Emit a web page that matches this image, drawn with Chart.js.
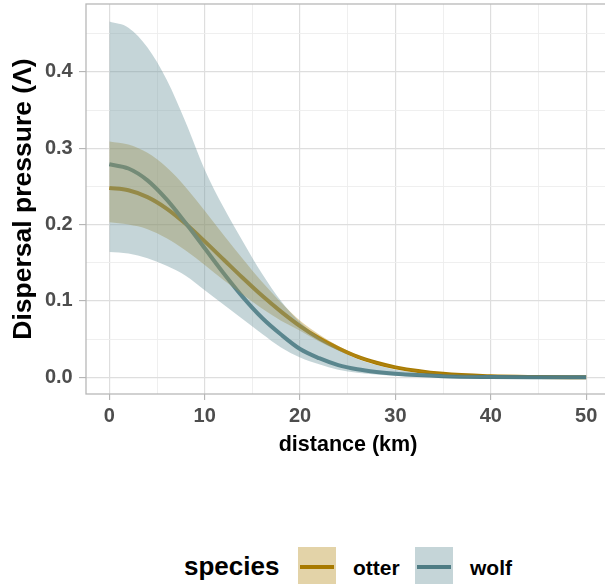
<!DOCTYPE html>
<html>
<head>
<meta charset="utf-8">
<script src="https://cdn.jsdelivr.net/npm/chart.js@4.4.1/dist/chart.umd.min.js"></script>
<style>
  html, body { margin: 0; padding: 0; background: #fff; }
  #wrap { position: relative; width: 605px; height: 584px; overflow: hidden; background: #fff;
          font-family: "Liberation Sans", Arial, sans-serif; }
  #box { position: absolute; left: 0; top: 0; width: 620px; height: 470px; }
  .leg { position: absolute; font-weight: bold; color: #000; line-height: 1; white-space: nowrap; }
  .key { position: absolute; top: 547px; width: 38px; height: 38px; }
  .key i { position: absolute; left: 2px; right: 2px; top: 18px; height: 4px; }
</style>
</head>
<body>
<div id="wrap">
  <div id="box"><canvas id="myChart" width="620" height="470"></canvas></div>
  <div class="leg" style="left:184px; top:553px; font-size:26px;">species</div>
  <div class="key" style="left:298px; background:rgba(185,145,38,0.4);"><i style="background:#a87a00;"></i></div>
  <div class="leg" style="left:353px; top:556.5px; font-size:21px;">otter</div>
  <div class="key" style="left:415px; background:rgba(110,150,158,0.4);"><i style="background:#4e7c84;"></i></div>
  <div class="leg" style="left:470px; top:556.5px; font-size:21px;">wolf</div>
</div>
<script>
// values
const distance = [0, 2, 4, 6, 8, 10, 12, 14, 16, 18, 20, 22, 24, 26, 28, 30, 35, 40, 45, 50];

const otterMean  = [0.248, 0.245, 0.236, 0.221, 0.201, 0.178, 0.154, 0.130, 0.107, 0.086, 0.067, 0.051, 0.038, 0.027, 0.019, 0.013, 0.0045, 0.0013, 0.0004, 0.0001];
const otterUpper = [0.309, 0.305, 0.294, 0.275, 0.249, 0.218, 0.186, 0.155, 0.125, 0.098, 0.074, 0.056, 0.041, 0.029, 0.020, 0.014, 0.005, 0.0014, 0.0004, 0.0001];
const otterLower = [0.203, 0.200, 0.194, 0.182, 0.166, 0.147, 0.127, 0.108, 0.090, 0.074, 0.061, 0.047, 0.035, 0.025, 0.018, 0.012, 0.004, 0.0012, 0.0003, 0.0001];

const wolfMean  = [0.279, 0.2735, 0.258, 0.233, 0.202, 0.169, 0.136, 0.105, 0.078, 0.056, 0.037, 0.025, 0.016, 0.0105, 0.007, 0.0045, 0.0014, 0.0004, 0.0001, 0];
const wolfUpper = [0.466, 0.458, 0.432, 0.390, 0.334, 0.272, 0.222, 0.178, 0.136, 0.100, 0.072, 0.052, 0.036, 0.024, 0.016, 0.010, 0.003, 0.001, 0.0002, 0];
const wolfLower = [0.164, 0.162, 0.156, 0.146, 0.133, 0.114, 0.095, 0.076, 0.057, 0.039, 0.026, 0.017, 0.010, 0.006, 0.0035, 0.002, 0.0005, 0.0001, 0, 0];

const xMajor = [0, 10, 20, 30, 40, 50];
const xMinor = [5, 15, 25, 35, 45];
const yMajor = [0, 0.1, 0.2, 0.3, 0.4];
const yMinor = [0.05, 0.15, 0.25, 0.35, 0.45];

const otterColor = '#a87a00';
const wolfColor = '#4e7c84';
const otterFill = 'rgba(185,145,38,0.4)';
const wolfFill = 'rgba(110,150,158,0.4)';

const pts = (ys) => distance.map((d, i) => ({x: d, y: ys[i]}));
const isMajor = (list, v) => list.some((m) => Math.abs(m - v) < 1e-9);

const tickFont = {family: '"Liberation Sans", Arial, sans-serif', size: 20, weight: 'bold'};

const lineSet = (label, ys, color) => ({
  label, data: pts(ys), borderColor: color, borderWidth: 4, pointRadius: 0,
  cubicInterpolationMode: 'monotone', fill: false, order: 3,
});
const bandSet = (ys, fillColor, fill, order) => ({
  data: pts(ys), borderWidth: 0, borderColor: 'rgba(0,0,0,0)', backgroundColor: fillColor,
  pointRadius: 0, cubicInterpolationMode: 'monotone', fill, order,
});

// grey panel border like the ggplot light theme
const panelBorder = {
  id: 'panelBorder',
  afterDraw(chart) {
    const {ctx, chartArea: a} = chart;
    ctx.save();
    ctx.strokeStyle = '#b8b8b8';
    ctx.lineWidth = 1.3;
    ctx.strokeRect(a.left, a.top, a.right - a.left, a.bottom - a.top);
    ctx.restore();
  },
};

const ctx = document.getElementById('myChart').getContext('2d');
new Chart(ctx, {
  type: 'line',
  data: {
    datasets: [
      lineSet('wolf', wolfMean, wolfColor),
      lineSet('otter', otterMean, otterColor),
      bandSet(otterLower, otterFill, false, 2),
      bandSet(otterUpper, otterFill, '-1', 2),
      bandSet(wolfLower, wolfFill, false, 1),
      bandSet(wolfUpper, wolfFill, '-1', 1),
    ],
  },
  options: {
    responsive: false,
    animation: false,
    layout: {padding: {top: 4, right: 10, left: 0, bottom: 0}},
    plugins: {legend: {display: false}, tooltip: {enabled: false}},
    scales: {
      x: {
        type: 'linear',
        min: -2.45,
        max: 52.5,
        afterBuildTicks: (s) => { s.ticks = [...xMajor, ...xMinor].sort((a, b) => a - b).map((v) => ({value: v})); },
        afterFit: (s) => { s.height = 76; s.paddingLeft = 0; s.paddingRight = 0; },
        ticks: {
          autoSkip: false, maxRotation: 0, padding: 4.5, color: '#4d4d4d', font: tickFont,
          callback: (v) => (isMajor(xMajor, v) ? String(v) : ''),
        },
        grid: {
          color: (c) => (isMajor(xMajor, c.tick.value) ? '#dedede' : '#ededed'),
          lineWidth: (c) => (isMajor(xMajor, c.tick.value) ? 1.2 : 0.9),
          tickColor: (c) => (isMajor(xMajor, c.tick.value) ? '#b3b3b3' : 'rgba(0,0,0,0)'),
          tickLength: 6,
          tickWidth: 1.1,
        },
        border: {display: false},
        title: {
          display: true, text: 'distance (km)', color: '#000',
          font: {family: '"Liberation Sans", Arial, sans-serif', size: 21.5, weight: 'bold'},
          padding: {top: 4, bottom: 12},
        },
      },
      y: {
        type: 'linear',
        min: -0.0219,
        max: 0.489,
        afterBuildTicks: (s) => { s.ticks = [...yMajor, ...yMinor].sort((a, b) => a - b).map((v) => ({value: v})); },
        afterFit: (s) => { s.width = 86; s.paddingTop = 0; s.paddingBottom = 0; },
        ticks: {
          autoSkip: false, padding: 6.3, color: '#4d4d4d', font: tickFont,
          callback: (v) => (isMajor(yMajor, v) ? v.toFixed(1) : ''),
        },
        grid: {
          color: (c) => (isMajor(yMajor, c.tick.value) ? '#dedede' : '#ededed'),
          lineWidth: (c) => (isMajor(yMajor, c.tick.value) ? 1.2 : 0.9),
          tickColor: (c) => (isMajor(yMajor, c.tick.value) ? '#b3b3b3' : 'rgba(0,0,0,0)'),
          tickLength: 7,
          tickWidth: 1.1,
        },
        border: {display: false},
        title: {
          display: true, text: 'Dispersal pressure (\u039B)', color: '#000',
          font: {family: '"Liberation Sans", Arial, sans-serif', size: 26.5, weight: 'bold'},
          padding: {top: 8, bottom: 4},
        },
      },
    },
  },
  plugins: [panelBorder],
});
</script>
</body>
</html>
